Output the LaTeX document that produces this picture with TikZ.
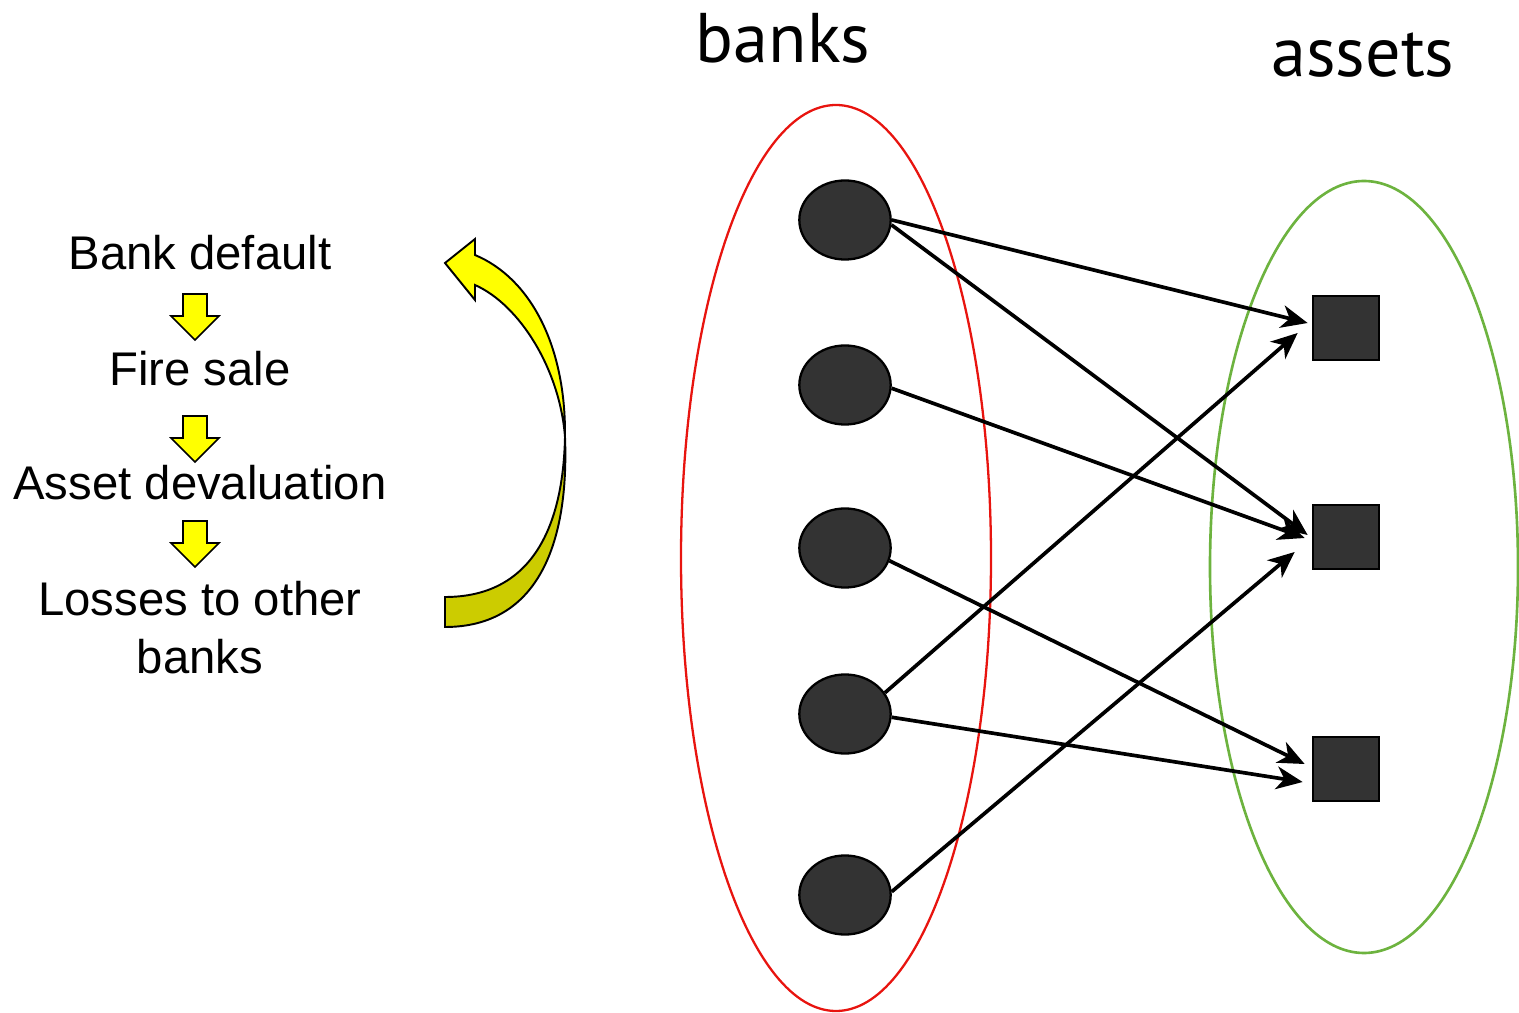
\documentclass[tikz,border=0pt]{standalone}
\usepackage{fontspec}
\setmainfont{Liberation Sans}
\newfontfamily\titlefont{PT Sans}
\usetikzlibrary{shapes.geometric,arrows.meta}
\definecolor{nodegray}{HTML}{333333}
\definecolor{ellred}{HTML}{E8140F}
\definecolor{ellgreen}{HTML}{6DB33F}
\definecolor{arryellow}{HTML}{FFFF00}
\definecolor{arrdark}{HTML}{CCCC00}
\tikzset{
  bank/.style={ellipse, draw=black, line width=1.3pt, fill=nodegray, inner sep=0pt,
               minimum width=52pt, minimum height=45pt},
  asset/.style={rectangle, draw=black, line width=1.6pt, fill=nodegray, inner sep=0pt,
               minimum width=37.5pt, minimum height=36.5pt},
  conn/.style={line width=2.1pt, -{Stealth[length=15pt,width=13pt,inset=4.5pt]}},
  steptext/.style={font=\fontsize{26.9pt}{32.9pt}\selectfont, align=center, inner sep=0pt},
  titletext/.style={font=\titlefont\fontsize{40pt}{44pt}\selectfont, inner sep=0pt},
  smallarr/.style={draw=black, line width=0.9pt, fill=arryellow, line join=miter},
  bigarr/.style={draw=black, line width=1.1pt, line join=miter},
}
\newcommand\downarr[2]{\path[smallarr] (#1,#2) -- ++(24,0) -- ++(0,22) -- ++(12,0) -- ++(-24,24) -- ++(-24,-24) -- ++(12,0) -- cycle;}
\begin{document}
\begin{tikzpicture}[x=0.02cm,y=-0.02cm]
\useasboundingbox (0,0) rectangle (1519,1013);
% ellipses
\draw[ellred, line width=1.3pt] (836,558) ellipse [x radius=155, y radius=453];
\draw[ellgreen, line width=1.5pt] (1364,567) ellipse [x radius=154, y radius=386];
% titles
\node[titletext, anchor=base] (tbanks) at (783,63) {banks};
\node[titletext, anchor=base] (tassets) at (1363,77) {assets};
% banks
\node[bank] (b1) at (845,220) {};
\node[bank] (b2) at (845,385) {};
\node[bank] (b3) at (845,548) {};
\node[bank] (b4) at (845,714) {};
\node[bank] (b5) at (845,895) {};
% assets
\node[asset] (a1) at (1346,328) {};
\node[asset] (a2) at (1346,537) {};
\node[asset] (a3) at (1346,769) {};
% connectors
\draw[conn] (b1.east) -- ([shift={(-4,-5)}]a1.west);
\draw[conn] (b1.-6) -- ([shift={(-4,-2)}]a2.west);
\draw[conn] (b2.-4) -- ([shift={(-7,1)}]a2.west);
\draw[conn] (b3.-16) -- ([shift={(-7,-5)}]a3.west);
\draw[conn] (b4.28) -- ([shift={(-14,5)}]a1.west);
\draw[conn] (b4.-4) -- ([shift={(-9,13)}]a3.west);
\draw[conn] (b5.4) -- ([shift={(-17,15)}]a2.west);
% left text
\node[steptext, anchor=base] (t1) at (200,270) {Bank default};
\node[steptext, anchor=base] (t2) at (200,386) {Fire sale};
\node[steptext, anchor=base] (t3) at (200,500) {Asset devaluation};
\node[steptext, anchor=base] (t4) at (200,673) {Losses to other\\banks};
% small down arrows
\downarr{183}{294}
\downarr{183}{416}
\downarr{183}{521}
% big curved arrow: lower (back) part
\path[bigarr, fill=arrdark] (565,437) .. controls (563,530) and (530,597) .. (445,597)
   -- (445,627) .. controls (540,627) and (569,540) .. (565,437) -- cycle;
% upper (front) part
\path[bigarr, fill=arryellow] (565,437) .. controls (566,345) and (530,278) .. (475,255)
   -- (475,239) -- (445,263) -- (475,300) -- (475,285)
   .. controls (520,305) and (560,370) .. (565,437) -- cycle;
\end{tikzpicture}
\end{document}
